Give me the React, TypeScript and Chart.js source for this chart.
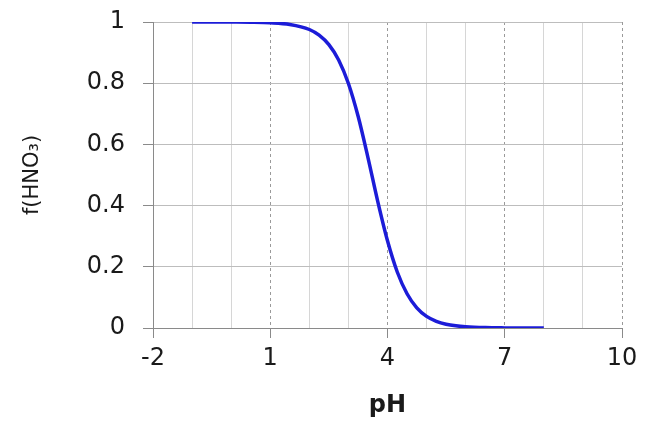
import React, { useEffect, useRef } from "react";
import { Chart, registerables } from "chart.js";

Chart.register(...registerables);

const pHValues = [-1, -0.5, 0, 0.5, 1, 1.5, 2, 2.25, 2.5, 2.75, 3, 3.25, 3.5, 3.75, 4, 4.25, 4.5, 4.75, 5, 5.25, 5.5, 5.75, 6, 6.5, 7, 7.5, 8];
const fractionHNO3 = [1.0, 1.0, 0.9997, 0.9992, 0.9975, 0.992, 0.9755, 0.957, 0.926, 0.876, 0.799, 0.691, 0.557, 0.414, 0.285, 0.183, 0.112, 0.066, 0.038, 0.022, 0.0124, 0.007, 0.004, 0.0013, 0.0004, 0.0001, 0.0];

const xMajorTicks = [-2, 1, 4, 7, 10];
const xMin = -2;
const xMax = 10;
const yMin = 0;
const yMax = 1;

const FONT = "'DejaVu Sans', 'Liberation Sans', Arial, sans-serif";

export default function App() {
  const canvasRef = useRef<HTMLCanvasElement | null>(null);

  useEffect(() => {
    const canvas = canvasRef.current;
    if (!canvas) return;
    const points = pHValues.map((x, i) => ({ x, y: fractionHNO3[i] }));
    const isMajor = (v: number) => xMajorTicks.includes(v);

    const chart = new Chart(canvas, {
      type: "line",
      data: {
        datasets: [
          {
            data: points,
            borderColor: "#1c1cd8",
            borderWidth: 3.5,
            pointRadius: 0,
            tension: 0.4,
            cubicInterpolationMode: "monotone",
            fill: false,
          },
        ],
      },
      options: {
        responsive: false,
        animation: false,
        layout: { padding: { top: 22, right: 26, bottom: 0, left: 0 } },
        plugins: { legend: { display: false }, tooltip: { enabled: false } },
        scales: {
          x: {
            type: "linear",
            min: xMin,
            max: xMax,
            afterFit: (scale: any) => {
              scale.height = 97;
            },
            ticks: {
              stepSize: 1,
              autoSkip: false,
              maxRotation: 0,
              color: "#1a1a1a",
              padding: 6,
              font: { family: FONT, size: 24 },
              callback: (v: any) => (isMajor(Number(v)) ? String(v) : ""),
            },
            grid: {
              color: (ctx: any) => (ctx.tick && isMajor(ctx.tick.value) ? "#9a9a9a" : "#d6d6d6"),
              lineWidth: 1,
              tickLength: 10,
              tickColor: (ctx: any) => (ctx.tick && isMajor(ctx.tick.value) ? "#8a8a8a" : "rgba(0,0,0,0)"),
            },
            border: {
              display: true,
              color: "#8a8a8a",
              width: 1,
              dash: (ctx: any) => (ctx.tick && isMajor(ctx.tick.value) && ctx.tick.value !== xMin ? [3, 3] : []),
            },
            title: {
              display: true,
              text: "pH",
              color: "#1a1a1a",
              font: { family: FONT, size: 24, weight: "bold" },
              padding: { top: 0, bottom: 5 },
            },
          },
          y: {
            type: "linear",
            min: yMin,
            max: yMax,
            afterFit: (scale: any) => {
              scale.width = 153;
              scale.paddingTop = 0;
              scale.paddingBottom = 0;
            },
            ticks: {
              stepSize: 0.2,
              color: "#1a1a1a",
              padding: 18,
              font: { family: FONT, size: 24 },
              callback: (v: any) => String(Math.round(Number(v) * 10) / 10),
            },
            grid: {
              color: "#bdbdbd",
              lineWidth: 1,
              tickLength: 10,
              tickColor: "#8a8a8a",
            },
            border: { display: true, color: "#8a8a8a", width: 1 },
            title: {
              display: true,
              text: "f(HNO₃)",
              color: "#1a1a1a",
              font: { family: FONT, size: 21 },
              padding: { top: 20, bottom: 0 },
            },
          },
        },
      },
    });
    return () => chart.destroy();
  }, []);

  return (
    <div style={{ position: "absolute", left: 0, top: 0, width: 648, height: 425, background: "#fff" }}>
      <canvas ref={canvasRef} width={648} height={425} style={{ display: "block" }} />
    </div>
  );
}
